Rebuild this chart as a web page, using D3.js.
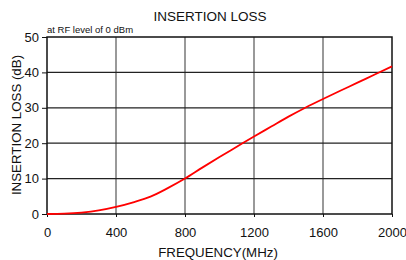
<!DOCTYPE html>
<html><head><meta charset="utf-8">
<script src="https://cdn.jsdelivr.net/npm/d3@7"></script>
<style>body{margin:0;background:#fff}svg{display:block;font-family:"Liberation Sans",Arial,sans-serif}</style>
</head><body><svg id="c" width="406" height="260"></svg>
<script>
const freq = [0,100,200,300,400,500,600,700,800,900,1000,1100,1200,1300,1400,1500,1600,1700,1800,1900,2000];
const loss = [0,0.1,0.4,1.0,2.0,3.3,4.9,7.3,10.0,13.1,16.1,19.0,21.9,24.7,27.5,30.1,32.5,34.8,37.1,39.4,41.7];
const xTicks = [0,400,800,1200,1600,2000];
const yTicks = [0,10,20,30,40,50];

const svg = d3.select("#c");
const L=47,R=392,T=37,B=214;
const x = d3.scaleLinear().domain([0,2000]).range([L,R]);
const y = d3.scaleLinear().domain([0,50]).range([B,T]);

// grid
svg.append("g").selectAll("line").data(xTicks.slice(1,-1)).join("line")
  .attr("x1",d=>x(d)).attr("x2",d=>x(d)).attr("y1",T).attr("y2",B)
  .attr("stroke","#555").attr("stroke-width",1.2);
svg.append("g").selectAll("line").data(yTicks.slice(1,-1)).join("line")
  .attr("x1",L).attr("x2",R).attr("y1",d=>y(d)).attr("y2",d=>y(d))
  .attr("stroke","#222").attr("stroke-width",1.2);

// axes
const ya = svg.append("g").attr("transform",`translate(${L},0)`)
  .call(d3.axisLeft(y).tickValues(yTicks).tickFormat(d3.format("d")).tickSize(5).tickPadding(3));
const xa = svg.append("g").attr("transform",`translate(0,${B})`)
  .call(d3.axisBottom(x).tickValues(xTicks).tickFormat(d3.format("d")).tickSize(3).tickPadding(11));
[ya,xa].forEach(a=>{a.select(".domain").remove();a.selectAll("text").attr("font-size",13).attr("fill","#111").style("font-family","Liberation Sans, Arial, sans-serif");a.selectAll("line").attr("stroke","#111");});

// frame
svg.append("rect").attr("x",L).attr("y",T).attr("width",R-L).attr("height",B-T)
  .attr("fill","none").attr("stroke","#111").attr("stroke-width",1.5);

// curve
svg.append("path").datum(freq.map((f,i)=>[f,loss[i]]))
  .attr("d",d3.line().x(d=>x(d[0])).y(d=>y(d[1])).curve(d3.curveMonotoneX))
  .attr("fill","none").attr("stroke","#ff0000").attr("stroke-width",1.8);

// texts
svg.append("text").attr("x",210).attr("y",21).attr("text-anchor","middle").attr("font-size",13.5).attr("fill","#111").text("INSERTION LOSS");
svg.append("text").attr("x",47).attr("y",33).attr("font-size",9.5).attr("fill","#111").text("at RF level of 0 dBm");
svg.append("text").attr("x",218).attr("y",257).attr("text-anchor","middle").attr("font-size",13.3).attr("fill","#111").text("FREQUENCY(MHz)");
svg.append("text").attr("transform","translate(21,125) rotate(-90)").attr("text-anchor","middle").attr("font-size",13.3).attr("fill","#111").text("INSERTION LOSS (dB)");
</script></body></html>
